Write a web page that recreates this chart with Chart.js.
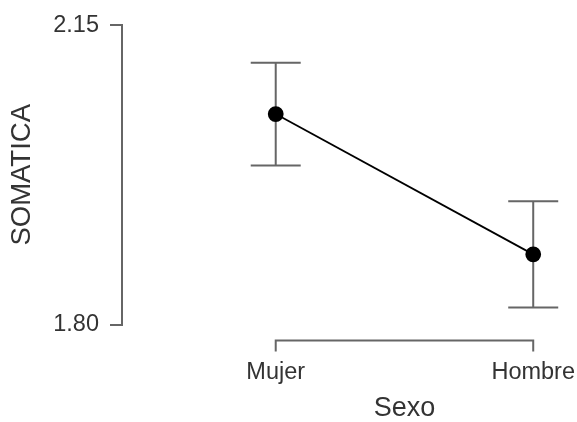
<!DOCTYPE html>
<html>
<head>
<meta charset="utf-8">
<script src="https://cdn.jsdelivr.net/npm/chart.js@4.4.1/dist/chart.umd.min.js"></script>
<style>
  html, body { margin: 0; padding: 0; background: #fff; }
  #wrap { width: 577px; height: 422px; }
</style>
</head>
<body>
<div id="wrap"><canvas id="chart"></canvas></div>
<script>
const categories = ['Mujer', 'Hombre'];
const means = [2.046, 1.882];
const upper = [2.106, 1.944];
const lower = [1.986, 1.820];
const yTicks = [1.80, 2.15];

const FONT = "'Liberation Sans', Arial, sans-serif";
const AXIS = '#666666';
const TEXT = '#333333';

// error bars, x bracket and x title (R/JASP look)
const extras = {
    id: 'extras',
    beforeDatasetsDraw(chart) {
        const ctx = chart.ctx;
        const xs = chart.scales.x, ys = chart.scales.y;
        ctx.save();
        ctx.strokeStyle = AXIS;
        ctx.lineWidth = 2;
        means.forEach((m, i) => {
            const px = xs.getPixelForValue(i);
            const top = ys.getPixelForValue(upper[i]);
            const bot = ys.getPixelForValue(lower[i]);
            ctx.beginPath();
            ctx.moveTo(px, top); ctx.lineTo(px, bot);
            ctx.moveTo(px - 25, top); ctx.lineTo(px + 25, top);
            ctx.moveTo(px - 25, bot); ctx.lineTo(px + 25, bot);
            ctx.stroke();
        });
        ctx.restore();
    },
    afterDraw(chart) {
        const ctx = chart.ctx;
        const xs = chart.scales.x;
        const x0 = xs.getPixelForValue(0), x1 = xs.getPixelForValue(categories.length - 1);
        const yb = chart.chartArea.bottom + 16;
        ctx.save();
        ctx.strokeStyle = AXIS;
        ctx.lineWidth = 2;
        ctx.beginPath();
        ctx.moveTo(x0, yb + 11); ctx.lineTo(x0, yb); ctx.lineTo(x1, yb); ctx.lineTo(x1, yb + 11);
        ctx.stroke();
        ctx.fillStyle = TEXT;
        ctx.font = '27px ' + FONT;
        ctx.textAlign = 'center';
        ctx.textBaseline = 'middle';
        ctx.fillText('Sexo', (x0 + x1) / 2, 409);
        ctx.restore();
    }
};

new Chart(document.getElementById('chart'), {
    type: 'line',
    data: {
        datasets: [{
            data: means.map((v, i) => ({ x: i, y: v })),
            borderColor: '#000',
            borderWidth: 1.8,
            pointRadius: 7,
            pointBackgroundColor: '#000',
            pointBorderColor: '#000',
            tension: 0
        }]
    },
    plugins: [extras],
    options: {
        responsive: true,
        maintainAspectRatio: false,
        animation: false,
        layout: { padding: { top: 23.5, right: 17, left: 0, bottom: 0 } },
        plugins: { legend: { display: false }, tooltip: { enabled: false } },
        scales: {
            x: {
                type: 'linear',
                min: -0.597,
                max: 1.104,
                afterBuildTicks: (s) => { s.ticks = categories.map((c, i) => ({ value: i })); },
                afterFit: (s) => { s.height = 97.5; s.paddingLeft = 0; s.paddingRight = 0; },
                grid: { display: false },
                border: { display: false },
                ticks: {
                    autoSkip: false,
                    maxRotation: 0,
                    padding: 26,
                    color: TEXT,
                    font: { family: FONT, size: 23.5 },
                    callback: (v) => categories[v]
                }
            },
            y: {
                min: 1.80,
                max: 2.15,
                afterBuildTicks: (s) => { s.ticks = yTicks.map(v => ({ value: v })); },
                afterFit: (s) => { s.width = 122; },
                grid: { drawOnChartArea: false, tickLength: 12, color: AXIS, lineWidth: 2 },
                border: { display: true, color: AXIS, width: 2 },
                ticks: {
                    padding: 11,
                    color: TEXT,
                    font: { family: FONT, size: 23.5 },
                    callback: (v) => v.toFixed(2)
                },
                title: {
                    display: true,
                    text: 'SOMATICA',
                    color: TEXT,
                    font: { family: FONT, size: 27.5 },
                    padding: { top: 6, bottom: 0 }
                }
            }
        }
    }
});
</script>
</body>
</html>
